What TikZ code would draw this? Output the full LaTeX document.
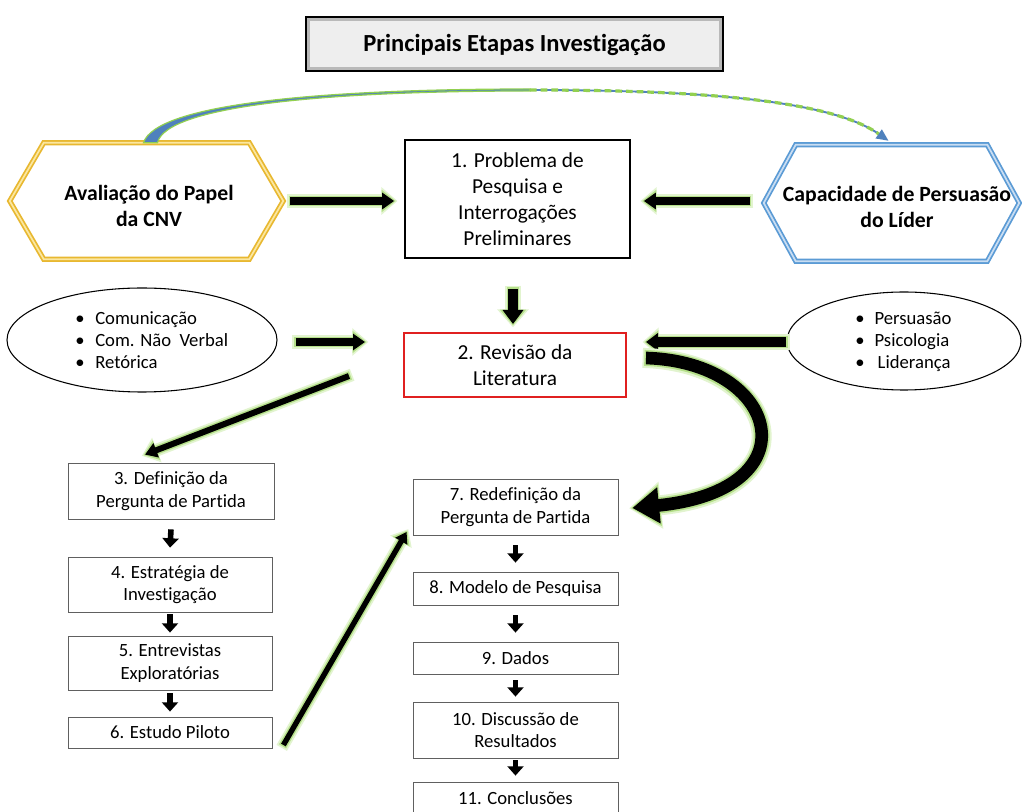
\documentclass[tikz,border=0pt]{standalone}
\usepackage{fontspec}
\setmainfont{Carlito}[Ligatures=NoCommon]
\usetikzlibrary{arrows.meta,calc,shapes.geometric}
\definecolor{gold}{HTML}{E8B830}
\definecolor{goldlight}{HTML}{FBE7A1}
\definecolor{bluehex}{HTML}{5B9BD5}
\definecolor{bluelight}{HTML}{C9DDF2}
\definecolor{glowA}{HTML}{E2F4CF}
\definecolor{glowB}{HTML}{B5E08A}
\definecolor{arcblue}{HTML}{4F81BD}
\definecolor{arcgreen}{HTML}{92D050}
\definecolor{redbox}{HTML}{E02020}
\newcommand\garrow[5]{%
  \pgfmathsetmacro\gaSa{#3+5}\pgfmathsetmacro\gaWa{#4+8}\pgfmathsetmacro\gaLa{#5+3}%
  \pgfmathsetmacro\gaSb{#3+2.2}\pgfmathsetmacro\gaWb{#4+4}\pgfmathsetmacro\gaLb{#5+1.5}%
  \draw[glowA, line width=\gaSa pt, shorten >=-2.5pt, shorten <=-2.5pt, -{Triangle[length=\gaLa pt,width=\gaWa pt]}] (#1) -- (#2);
  \draw[glowB, line width=\gaSb pt, shorten >=-1.2pt, shorten <=-1.2pt, -{Triangle[length=\gaLb pt,width=\gaWb pt]}] (#1) -- (#2);
  \draw[black, line width=#3pt, -{Triangle[length=#5pt,width=#4pt]}] (#1) -- (#2);
}
\begin{document}
\begin{tikzpicture}[x=0.75pt,y=-0.75pt,
  every node/.style={inner sep=0pt, align=center},
  sz/.style 2 args={minimum width=#1*0.75pt, minimum height=#2*0.75pt},
  topfont/.style={font=\fontsize{16}{19.5}\selectfont},
  lowfont/.style={font=\fontsize{14}{17}\selectfont},
  hexfont/.style={font=\fontsize{16.3}{20}\selectfont\bfseries},
  ellfont/.style={font=\fontsize{14}{16.5}\selectfont, align=left, anchor=west},
  lowbox/.style={draw=gray!75!black, line width=0.6pt, fill=white, lowfont},
  smallarrow/.style={line width=4.2pt, -{Triangle[length=7pt,width=12pt]}},
]
\useasboundingbox[fill=white] (0,0) rectangle (1022,812);

% title
\node[sz={417}{54}, draw=black, line width=1.6pt, fill=gray!55] (title) at (514.5,44) {};
\fill[gray!13] ($(title.north west)+(5,5)$) rectangle ($(title.south east)+(-5,-5)$);
\node[font=\fontsize{18.4}{22}\selectfont\bfseries] (titletext) at (514.5,45) {Principais Etapas Investigação};

% hexagons
\node[sz={273}{116}] (hexL) at (146.5,201) {};
\draw[gold, line width=1.3pt, double=goldlight, double distance=1.3pt, line join=miter]
  (hexL.west) -- ($(hexL.north west)+(34,0)$) -- ($(hexL.north east)+(-34,0)$) -- (hexL.east)
  -- ($(hexL.south east)+(-34,0)$) -- ($(hexL.south west)+(34,0)$) -- cycle;
\node[hexfont] (hexLt) at (149,206) {Avaliação do Papel\\da CNV};

\node[sz={255}{116}] (hexR) at (891.5,203) {};
\draw[bluehex, line width=1.3pt, double=bluelight, double distance=1.3pt, line join=miter]
  (hexR.west) -- ($(hexR.north west)+(32,0)$) -- ($(hexR.north east)+(-32,0)$) -- (hexR.east)
  -- ($(hexR.south east)+(-32,0)$) -- ($(hexR.south west)+(32,0)$) -- cycle;
\node[hexfont] (hexRt) at (897,207) {Capacidade de Persuasão\\do Líder};

% main boxes
\node[sz={225}{118}, draw=black, line width=1.3pt, topfont] (b1) at (517.5,199)
  {1. Problema de\\Pesquisa e\\Interrogações\\Preliminares};
\node[sz={222}{64}, draw=redbox, line width=1.5pt, topfont] (b2) at (515,365)
  {2. Revisão da\\Literatura};

% ellipses
\node[ellipse, sz={270}{104}, draw=black, line width=0.8pt] (eL) at (142,340) {};
\node[ellfont] (eLt) at (75,340)
  {\makebox[15pt][l]{•}Comunicação\\\makebox[15pt][l]{•}Com. Não\ \ Verbal\\\makebox[15pt][l]{•}Retórica};
\node[ellipse, sz={234}{98}, draw=black, line width=0.8pt] (eR) at (904,341) {};
\node[ellfont] (eRt) at (855,342)
  {\makebox[14.5pt][l]{•}Persuasão\\\makebox[14.5pt][l]{•}Psicologia\\\makebox[14.5pt][l]{•}\,Liderança};

% lower boxes
\node[lowbox, sz={206}{56}] (b3) at (171,491) {3. Definição da\\Pergunta de Partida};
\node[lowbox, sz={204}{55}] (b4) at (170,584.5) {4. Estratégia de\\Investigação};
\node[lowbox, sz={204}{54}] (b5) at (170,663) {5. Entrevistas\\Exploratórias};
\node[lowbox, sz={204}{31}] (b6) at (170,732.5) {6. Estudo Piloto};
\node[lowbox, sz={205}{56}] (b7) at (515.5,507) {7. Redefinição da\\Pergunta de Partida};
\node[lowbox, sz={205}{33}] (b8) at (515.5,588.5) {8. Modelo de Pesquisa};
\node[lowbox, sz={205}{32}] (b9) at (515.5,658) {9. Dados};
\node[lowbox, sz={205}{56}] (b10) at (515.5,730) {10. Discussão de\\Resultados};
\node[lowbox, sz={205}{32}] (b11) at (515.5,798) {11. Conclusões};

% top arc
\coordinate (arcS) at ($(hexL.north)+(4,-1)$);
\coordinate (arcE) at ($(hexR.north)+(-3,-4)$);
\coordinate (arcM) at (530,90);
\draw[arcblue, line width=1.4pt, -{Triangle[length=9pt,width=8pt]}] (arcM) .. controls (700,90) and (830,100) .. (arcE);
\draw[arcgreen, line width=2.4pt, dash pattern=on 5pt off 3pt, shorten >=9pt] (arcM) .. controls (700,90) and (830,100) .. (arcE);
\draw[arcgreen, line width=0.9pt, fill=arcblue]
  ($(arcS)+(-7,1)$) .. controls (156,104) and (320,89) .. ($(arcM)+(0,-1)$)
  -- ($(arcM)+(0,1)$) .. controls (325,91) and (166,106) .. ($(arcS)+(7,1)$) -- cycle;

% block arrows
\coordinate (a1s) at ($(hexL.east)+(7,0)$);
\coordinate (a1e) at ($(b1.west)+(-10,2)$);
\garrow{a1s}{a1e}{6}{12}{9}
\coordinate (a2s) at ($(hexR.west)+(-14,-2)$);
\coordinate (a2e) at ($(b1.east)+(13,2)$);
\garrow{a2s}{a2e}{6}{12}{9}
\coordinate (a3s) at ($(b1.south)+(-4.5,30)$);
\coordinate (a3e) at ($(b2.north)+(-2,-8)$);
\garrow{a3s}{a3e}{7.5}{15}{10.5}
\coordinate (a4s) at ($(eL.east)+(18,2)$);
\coordinate (a4e) at ($(b2.west)+(-38,-23)$);
\garrow{a4s}{a4e}{6}{12}{9}
\coordinate (a5s) at ($(eR.west)+(0,1)$);
\coordinate (a5e) at ($(b2.east)+(19,-23)$);
\garrow{a5s}{a5e}{7.5}{13}{9}
\coordinate (a6s) at ($(b2.west)+(-54,11)$);
\coordinate (a6e) at ($(b3.north)+(-26,-8)$);
\garrow{a6s}{a6e}{4.5}{11}{9}
\coordinate (a7s) at ($(b6.east)+(11,12.5)$);
\coordinate (a7e) at ($(b7.west)+(-6,25)$);
\garrow{a7s}{a7e}{4}{10}{8}

% big curved arrow
\coordinate (cs) at ($(b2.east)+(19,-7)$);
\coordinate (ce) at ($(b7.east)+(14,1)$);
\draw[glowA, line width=15pt, shorten >=-2.5pt, shorten <=-2.5pt, -{Triangle[length=24pt,width=34pt]}] (cs) .. controls (780,362) and (815,490) .. (ce);
\draw[glowB, line width=12pt, shorten >=-1.2pt, shorten <=-1.2pt, -{Triangle[length=22pt,width=30pt]}] (cs) .. controls (780,362) and (815,490) .. (ce);
\draw[black, line width=9.5pt, -{Triangle[length=20pt,width=26pt]}] (cs) .. controls (780,362) and (815,490) .. (ce);

% small arrows
\draw[smallarrow] ($(b3.south)+(0,10)$) -- ($(b4.north)+(0,-9)$);
\draw[smallarrow] ($(b4.south)+(0,2)$) -- ($(b5.north)+(0,-3)$);
\draw[smallarrow] ($(b5.south)+(0,3)$) -- ($(b6.north)+(0,-5)$);
\draw[smallarrow] ($(b7.south)+(0,10)$) -- ($(b8.north)+(0,-9)$);
\draw[smallarrow] ($(b8.south)+(0,10)$) -- ($(b9.north)+(0,-9)$);
\draw[smallarrow] ($(b9.south)+(0,6)$) -- ($(b10.north)+(0,-5)$);
\draw[smallarrow] ($(b10.south)+(0,2)$) -- ($(b11.north)+(0,-6)$);
\end{tikzpicture}
\end{document}
